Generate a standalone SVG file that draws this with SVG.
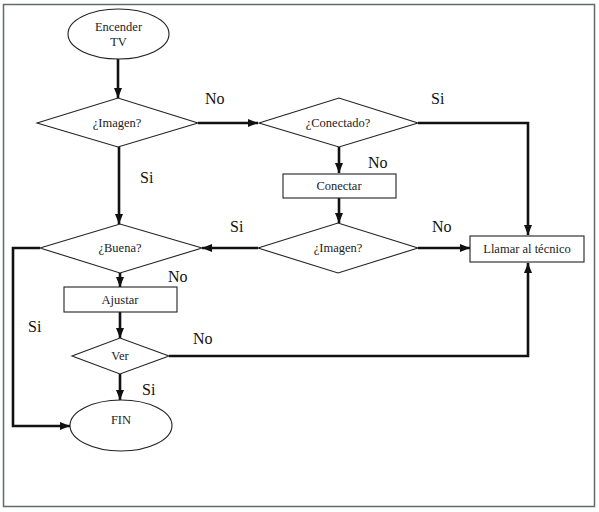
<svg xmlns="http://www.w3.org/2000/svg" width="599" height="512" viewBox="0 0 599 512">
<defs>
<marker id="ah" markerWidth="10" markerHeight="8" refX="10" refY="4" orient="auto" markerUnits="userSpaceOnUse">
<path d="M0,0 L10,4 L0,8 Z" fill="#111"/>
</marker>
<style>
.shape{fill:#fff;stroke:#222;stroke-width:1.1}
.t{font-size:12.5px;fill:#222;text-anchor:middle}
.lbl{font-size:16px;fill:#111}
.ca{fill:none;stroke:#111;stroke-width:2.6;marker-end:url(#ah)}
</style>
</defs>
<rect x="0" y="0" width="599" height="512" fill="#fff"/>
<rect x="3.5" y="4.5" width="591" height="502" fill="none" stroke="#5f6b6b" stroke-width="1.5"/>
<g id="connectors">
<path class="ca" d="M118,59 V98"/>
<path class="ca" d="M198,123 H258"/>
<path class="ca" d="M418,123 H528 V235"/>
<path class="ca" d="M339,147 V173"/>
<path class="ca" d="M339,198 V223"/>
<path class="ca" d="M258,248 H202"/>
<path class="ca" d="M418,248 H470"/>
<path class="ca" d="M119,147 V224"/>
<path class="ca" d="M40,248 H13 V426 H70"/>
<path class="ca" d="M120,273 V287"/>
<path class="ca" d="M120,312 V338"/>
<path class="ca" d="M169,356 H528 V263"/>
<path class="ca" d="M120,374 V400"/>
</g>
<g font-family="Liberation Serif, Times New Roman, serif">
<g id="labels">
<text class="lbl" x="205" y="104">No</text>
<text class="lbl" x="431" y="104">Si</text>
<text class="lbl" x="140" y="183">Si</text>
<text class="lbl" x="368" y="168">No</text>
<text class="lbl" x="230" y="232">Si</text>
<text class="lbl" x="432" y="232">No</text>
<text class="lbl" x="168" y="282">No</text>
<text class="lbl" x="28" y="332">Si</text>
<text class="lbl" x="193" y="344">No</text>
<text class="lbl" x="142" y="395">Si</text>
</g>
<g id="start">
<ellipse class="shape" cx="118.5" cy="34" rx="50.5" ry="25"/>
<text class="t" x="118.5" y="31">Encender</text>
<text class="t" x="118.5" y="46">TV</text>
</g>
<g id="imagen1">
<polygon class="shape" points="37,123 118,98 198,123 118,147"/>
<text class="t" x="117" y="127">¿Imagen?</text>
</g>
<g id="conectado">
<polygon class="shape" points="259,123 339,98 418,123 339,147"/>
<text class="t" x="338" y="127">¿Conectado?</text>
</g>
<g id="conectar">
<rect class="shape" x="283" y="174" width="113" height="24"/>
<text class="t" x="339" y="190">Conectar</text>
</g>
<g id="imagen2">
<polygon class="shape" points="258,248 338,223 418,248 338,273"/>
<text class="t" x="338" y="252">¿Imagen?</text>
</g>
<g id="llamar">
<rect class="shape" x="470" y="236" width="114" height="26"/>
<text class="t" x="527" y="253">Llamar al técnico</text>
</g>
<g id="buena">
<polygon class="shape" points="40,248 120,224 202,248 120,273"/>
<text class="t" x="120" y="252">¿Buena?</text>
</g>
<g id="ajustar">
<rect class="shape" x="64" y="287" width="113" height="25"/>
<text class="t" x="120" y="304">Ajustar</text>
</g>
<g id="ver">
<polygon class="shape" points="72,356 120,338 169,356 120,374"/>
<text class="t" x="120" y="360">Ver</text>
</g>
<g id="fin">
<ellipse class="shape" cx="121" cy="425.5" rx="51" ry="25.5"/>
<text class="t" x="121" y="424">FIN</text>
</g>
</g>
</svg>
